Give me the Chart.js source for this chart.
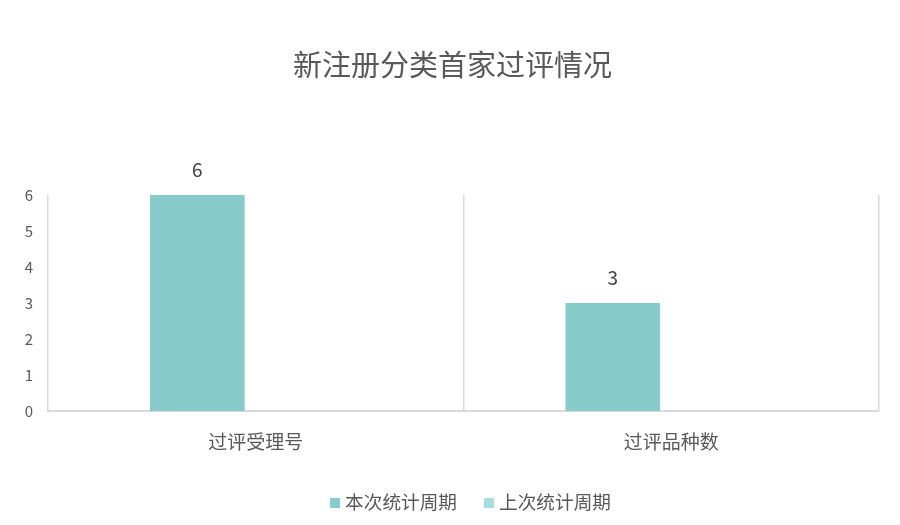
<!DOCTYPE html>
<html>
<head>
<meta charset="utf-8">
<script src="https://cdn.jsdelivr.net/npm/chart.js@4"></script>
<style>
html,body{margin:0;padding:0;background:#fff;}
#wrap{width:900px;height:525px;}
</style>
</head>
<body>
<div id="wrap"><canvas id="c" width="900" height="525"></canvas></div>
<script>
const chartTitle = "新注册分类首家过评情况";
const categories = ["过评受理号", "过评品种数"];
const currentLabel = "本次统计周期";
const previousLabel = "上次统计周期";
const currentValues = [6, 3];
const previousValues = [null, null];
const yTicks = [0, 1, 2, 3, 4, 5, 6];

const FONT = "'Noto Sans CJK SC', 'Noto Sans', sans-serif";

const dataLabelPlugin = {
  id: 'dataLabels',
  afterDatasetsDraw(chart) {
    const ctx = chart.ctx;
    ctx.save();
    ctx.font = "19px " + FONT;
    ctx.fillStyle = "#404040";
    ctx.textAlign = "center";
    ctx.textBaseline = "middle";
    const meta = chart.getDatasetMeta(0);
    meta.data.forEach((bar, i) => {
      const v = chart.data.datasets[0].data[i];
      if (v === null || v === undefined) return;
      ctx.fillText(String(v), bar.x, bar.y - 25);
    });
    ctx.restore();
  }
};

// Centre the title on the whole canvas rather than the padded layout box
const titleShiftPlugin = {
  id: 'titleShift',
  afterLayout(chart) {
    if (chart.titleBlock) {
      chart.titleBlock.left += 13;
      chart.titleBlock.right += 13;
    }
  }
};

// Bottom legend: small square, short gap, label (Office-style spacing)
const legendPlugin = {
  id: 'officeLegend',
  afterDraw(chart) {
    const ctx = chart.ctx;
    ctx.save();
    ctx.font = "18.67px " + FONT;
    ctx.textBaseline = "middle";
    ctx.textAlign = "left";
    const box = 10, gap = 5, itemGap = 27;
    const items = chart.data.datasets.map(ds => ({ text: ds.label, color: ds.backgroundColor, w: ctx.measureText(ds.label).width }));
    let total = 0;
    items.forEach((it, i) => { total += box + gap + it.w + (i ? itemGap : 0); });
    let x = 470.5 - total / 2;
    const y = 502;
    items.forEach(it => {
      ctx.fillStyle = it.color;
      ctx.fillRect(x, y - 4, box, box);
      ctx.fillStyle = '#595959';
      ctx.fillText(it.text, x + box + gap, y);
      x += box + gap + it.w + itemGap;
    });
    ctx.restore();
  }
};

new Chart(document.getElementById('c'), {
  type: 'bar',
  data: {
    labels: categories,
    datasets: [
      { label: currentLabel, data: currentValues, backgroundColor: '#87CBCA', categoryPercentage: 0.5625, barPercentage: 0.81 },
      { label: previousLabel, data: previousValues, backgroundColor: '#A7DDDF', categoryPercentage: 0.5625, barPercentage: 0.81 }
    ]
  },
  options: {
    responsive: false,
    animation: false,
    layout: { padding: { left: 0, right: 21, top: 0, bottom: 53 } },
    plugins: {
      title: {
        display: true, text: chartTitle, color: '#595959',
        font: { family: FONT, size: 29, weight: 'normal' },
        padding: { top: 48, bottom: 112 }
      },
      legend: { display: false },
      tooltip: { enabled: false }
    },
    scales: {
      x: {
        grid: { display: true, offset: true, color: '#d9d9d9', lineWidth: 1.5, drawTicks: false },
        border: { display: true, color: '#d9d9d9', width: 2 },
        ticks: { color: '#595959', font: { family: FONT, size: 19 }, padding: 19 }
      },
      y: {
        min: 0, max: 6,
        afterFit(scale) { scale.width = 48; },
        afterBuildTicks(scale) { scale.ticks = yTicks.map(v => ({ value: v })); },
        grid: { display: false, drawTicks: false },
        border: { display: false },
        ticks: { color: '#595959', font: { family: FONT, size: 15 }, padding: 15, stepSize: 1 }
      }
    }
  },
  plugins: [dataLabelPlugin, titleShiftPlugin, legendPlugin]
});
</script>
</body>
</html>
